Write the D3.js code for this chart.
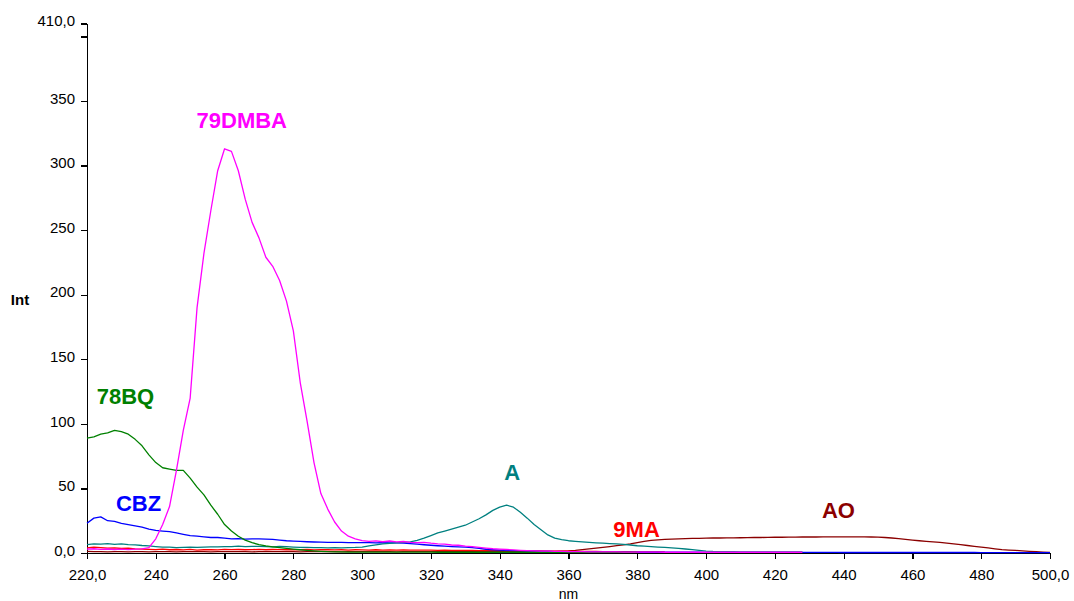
<!DOCTYPE html>
<html>
<head>
<meta charset="utf-8">
<script src="https://cdn.jsdelivr.net/npm/d3@7"></script>
<style>
  html, body { margin: 0; padding: 0; background: #fff; }
  svg { display: block; }
  .axis text { font-family: "Liberation Sans", Arial, Helvetica, sans-serif; font-size: 15px; fill: #000; }
  .axis path, .axis line { stroke: #000; stroke-width: 1.2; shape-rendering: crispEdges; }
  .series-label { font-family: "Liberation Sans", Arial, Helvetica, sans-serif; font-weight: bold; font-size: 22px; text-anchor: middle; }
  .axis-title { font-family: "Liberation Sans", Arial, Helvetica, sans-serif; fill: #000; }
</style>
</head>
<body>
<svg id="chart" width="1074" height="601"></svg>
<script>
// Emission spectra, intensity sampled every 2 nm starting at 220 nm
const startNm = 220;
const stepNm = 2;

const dmba79 = [
  3.0,3.3,2.8,3.1,2.7,3.0,2.6,3.0,3.2,4.2,
  11,22,36,64,95,120,190,232,265,296,
  313,311,296,274,256,244,229,222,211,195,
  172,132,102,70,46,34,24,17,13,11,
  9.6,9.0,9.4,8.7,9.3,8.6,8.9,8.3,8.1,8.3,
  7.6,7.1,6.8,6.2,6.0,5.3,4.9,4.4,3.8,3.3,
  3.0,2.7,2.4,2.1,1.9,1.7,1.5,1.4,1.3,1.2,
  1.1,1.0,1.0,0.9,0.9,0.8,0.8,0.8,0.7,0.7,
  0.7,0.7,0.7,0.6,0.6,0.6,0.6,0.6,0.6,0.6,
  0.6,0.6,0.6,0.6,0.6,0.6,0.6,0.6,0.6,0.6,
  0.6,0.6,0.6,0.6,0.6
];

const bq78 = [
  89,90,92,93,95,94,92,88,83,76,
  70,66,65,64,64,58,51,45,37,30,
  22,17,13,10,8,6.5,5.5,4.8,4.2,3.6,
  3.0,2.5,2.0,1.6,1.3,1.0,0.9,0.8,0.7,0.7,
  0.7,0.7,0.7,0.7,0.7,0.7,0.7,0.7,0.7,0.7,
  0.6,0.6,0.6,0.6,0.6,0.6,0.6,0.6,0.6,0.6,
  0.6,0.6,0.6,0.6,0.6,0.6,0.6,0.6,0.6,0.6,
  0.5,0.5,0.5,0.5,0.5,0.5,0.5,0.5,0.5,0.5,
  0.5
];

const cbz = [
  23,27,28,25,24.5,23,22,21,20,18.5,
  17.5,17,16.5,15.5,14.5,13.5,13,12.5,12,12,
  11.5,11,11.2,10.8,11,11,10.7,10.5,10,9.5,
  9.2,9,8.7,8.5,8.4,8.3,8.2,8.2,8.0,8.0,
  8.0,8.0,7.9,8.0,7.8,7.9,7.6,7.3,6.8,6.4,
  6.0,5.6,5.3,5.0,4.8,4.5,4.2,3.6,2.9,2.5,
  2.2,2.0,1.8,1.6,1.5,1.4,1.3,1.2,1.1,1.0,
  0.9,0.9,0.8,0.8,0.8,0.7,0.7,0.7,0.6,0.6,
  0.6,0.6,0.6,0.6,0.6,0.6,0.6,0.6,0.6,0.6,
  0.5,0.5,0.5,0.5,0.5,0.5,0.5,0.5,0.5,0.5,
  0.5,0.5,0.5,0.5,0.5,0.5,0.5,0.5,0.5,0.5,
  0.4,0.4,0.4,0.4,0.4,0.4,0.4,0.4,0.4,0.4,
  0.4,0.4,0.4,0.4,0.4,0.4,0.4,0.4,0.4,0.4,
  0.3,0.3,0.3,0.3,0.3,0.3,0.3,0.3,0.3,0.3,
  0.3
];

const anthracene = [
  6.5,7.0,6.8,7.2,6.6,7.0,6.5,6.3,5.8,5.5,
  5.0,4.5,4.6,4.2,4.4,4.5,4.3,4.6,4.8,4.7,
  5.0,4.9,5.3,5.0,5.2,5.1,5.0,4.8,5.2,4.9,
  4.6,4.4,4.3,4.1,4.2,4.0,4.1,4.0,4.2,4.3,
  4.6,5.5,6.3,7.0,7.4,7.8,8.2,8.6,9.8,11.5,
  13.5,15.5,17,18.5,20,21.5,24,26.5,29.5,33,
  35.5,37,35.5,31.5,27,22,18,14,11.5,10.3,
  9.5,9.0,8.6,8.2,7.9,7.6,7.3,7.0,6.6,6.2,
  5.6,5.3,5.0,4.6,4.3,4.0,3.6,3.1,2.6,2.1,
  1.5,1.2,1.1,1.0,1.0,0.9,0.9,0.9,0.9,0.9,
  0.9,0.9,0.9,0.9,0.9
];

const ma9 = [
  4.0,4.5,4.2,3.8,4.0,3.5,3.8,3.2,3.0,2.8,
  2.6,3.0,2.5,2.7,2.4,2.8,2.3,2.5,2.6,2.4,
  2.8,2.6,2.7,2.5,2.6,2.8,2.5,2.7,2.6,2.5,
  2.6,2.5,2.7,2.4,2.5,2.6,2.4,2.5,2.3,2.5,
  2.4,2.3,2.5,2.3,2.4,2.2,2.4,2.3,2.2,2.3,
  2.2,2.1,2.2,2.0,2.1,2.0,2.1,1.9,2.0,1.9,
  1.9,1.8,1.8,1.7,1.7,1.6,1.6,1.5,1.5,1.4,
  1.4,1.3,1.3,1.2,1.2,1.1,1.1,1.0,1.0,1.0,
  0.9,0.9,0.9,0.9,0.8
];

const ao = [
  1.2,1.0,1.1,0.9,1.0,1.1,0.9,1.0,1.0,0.9,
  1.0,1.1,1.0,0.9,1.0,1.0,1.1,1.0,0.9,1.0,
  1.0,1.1,1.0,1.0,0.9,1.0,1.0,1.1,1.0,1.0,
  1.0,0.9,1.0,1.0,1.1,1.0,1.0,0.9,1.0,1.0,
  1.0,1.0,1.1,1.0,1.0,0.9,1.0,1.0,1.0,1.0,
  1.0,1.0,1.0,1.1,1.0,1.0,1.0,1.0,1.0,1.0,
  1.0,1.0,1.0,1.0,1.0,1.0,1.1,1.2,1.3,1.4,
  1.6,2.0,2.6,3.2,3.8,4.4,5.0,5.7,6.3,7.0,
  8.0,9.0,9.8,10.2,10.5,10.8,11.0,11.2,11.3,11.4,
  11.5,11.6,11.6,11.7,11.7,11.8,11.9,12.0,12.0,12.1,
  12.2,12.2,12.3,12.3,12.4,12.4,12.4,12.5,12.5,12.5,
  12.5,12.5,12.5,12.5,12.4,12.3,12.0,11.6,11.1,10.6,
  10.0,9.5,9.0,8.6,8.2,7.7,7.1,6.5,5.8,5.2,
  4.6,3.9,3.2,2.6,2.3,2.0,1.7,1.3,1.0,0.7,
  0.4
];

const seriesNames = ["AO", "9MA", "CBZ", "A", "78BQ", "79DMBA"];
const seriesValues = [ao, ma9, cbz, anthracene, bq78, dmba79];
const seriesColors = ["#8b0000", "#ff0000", "#0000ff", "#008080", "#008000", "#ff00ff"];
// label anchor for each series, in data units [nm, intensity] (text baseline centre)
const labelAnchors = [[438.5, 27.0], [379.8, 12.5], [235.0, 32.5], [343.6, 56.5], [231.2, 115.5], [265.0, 329.0]];

const xTicks = [220, 240, 260, 280, 300, 320, 340, 360, 380, 400, 420, 440, 460, 480, 500];
const yTicks = [0, 50, 100, 150, 200, 250, 300, 350, 400, 410];
const xEndLabels = { 220: "220,0", 500: "500,0" };
const yEndLabels = { 0: "0,0", 400: "", 410: "410,0" };

const svg = d3.select("#chart");
const x = d3.scaleLinear().domain([220, 500]).range([87, 1050]);
const y = d3.scaleLinear().domain([0, 410]).range([553, 23.5]);

// axes
const xAxis = d3.axisBottom(x)
  .tickValues(xTicks)
  .tickSize(6)
  .tickSizeOuter(0)
  .tickPadding(10)
  .tickFormat(d => (d in xEndLabels) ? xEndLabels[d] : String(d));
svg.append("g").attr("class", "axis")
  .attr("transform", `translate(0,${y(0)})`)
  .call(xAxis);

const yAxis = d3.axisLeft(y)
  .tickValues(yTicks)
  .tickSize(6)
  .tickSizeOuter(0)
  .tickPadding(6)
  .tickFormat(d => (d in yEndLabels) ? yEndLabels[d] : String(d));
const gy = svg.append("g").attr("class", "axis")
  .attr("transform", `translate(${x(220)},0)`)
  .call(yAxis);
gy.selectAll(".tick text").attr("dy", "0.15em");

// axis titles
svg.append("text").attr("class", "axis-title")
  .attr("x", 20).attr("y", 305)
  .attr("text-anchor", "middle")
  .style("font-weight", "bold").style("font-size", "15px")
  .text("Int");
svg.append("text").attr("class", "axis-title")
  .attr("x", (x(220) + x(500)) / 2).attr("y", 599)
  .attr("text-anchor", "middle")
  .style("font-size", "14px")
  .text("nm");

// spectra
const line = d3.line()
  .x((d, i) => x(startNm + i * stepNm))
  .y(d => y(d));

svg.append("g")
  .selectAll("path")
  .data(seriesValues)
  .join("path")
  .attr("fill", "none")
  .attr("stroke", (d, i) => seriesColors[i])
  .attr("stroke-width", 1.3)
  .attr("stroke-linejoin", "round")
  .attr("d", line);

// series labels
svg.append("g")
  .selectAll("text")
  .data(seriesNames)
  .join("text")
  .attr("class", "series-label")
  .attr("x", (d, i) => x(labelAnchors[i][0]))
  .attr("y", (d, i) => y(labelAnchors[i][1]))
  .attr("fill", (d, i) => seriesColors[i])
  .text(d => d);
</script>
</body>
</html>
